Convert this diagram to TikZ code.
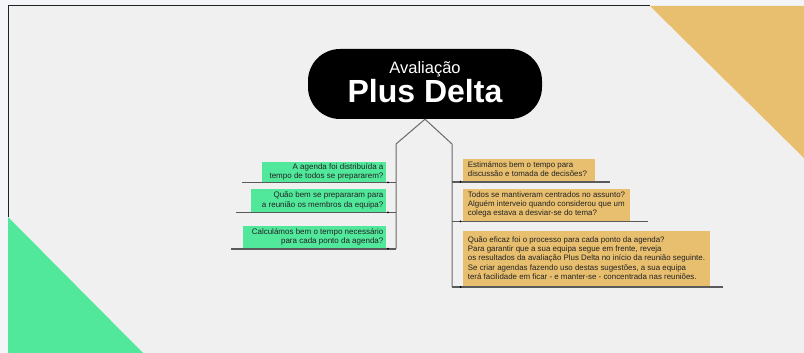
\documentclass[tikz,border=0pt]{standalone}
\usepackage{fontspec}
\setmainfont{Liberation Sans}
\definecolor{pagebg}{HTML}{F3F5F8}
\definecolor{innerbg}{HTML}{F0F0F0}
\definecolor{boxorange}{HTML}{E8BF6F}
\definecolor{boxgreen}{HTML}{52E89B}
\definecolor{framec}{HTML}{222222}
\definecolor{spinegray}{HTML}{6A6A6A}
\definecolor{ulgray}{HTML}{5A5A5A}
\definecolor{textdark}{HTML}{222222}
\newcommand{\rblock}[2]{\makebox[#1][r]{\begin{tabular}{@{}r@{}}#2\end{tabular}}}
\newcommand{\lblock}[2]{\makebox[#1][l]{\begin{tabular}{@{}l@{}}#2\end{tabular}}}
\begin{document}
\begin{tikzpicture}[x=1pt,y=-1pt,
  conn/.style={draw=spinegray, line width=1pt},
  uline/.style={draw=ulgray, line width=1.6pt},
  boxtext/.style={anchor=north west, inner ysep=0pt, text=textdark},
  gbox/.style={boxtext, fill=boxgreen, inner xsep=2.5pt, font=\fontsize{8}{9.3}\selectfont},
  obox/.style={boxtext, fill=boxorange, inner xsep=5pt, font=\fontsize{7.9}{9.3}\selectfont},
  tickmark/.style={fill=black, circle, inner sep=0pt, minimum size=2pt}
]
\useasboundingbox (0,0) rectangle (804,353);
\fill[pagebg] (0,0) rectangle (804,353);
\fill[innerbg] (8,6) rectangle (806,355);
\fill[boxorange] (650,6) -- (806,6) -- (806,160) -- cycle;
\fill[boxgreen] (8,217) -- (8,355) -- (145,355) -- cycle;
\draw[framec, line width=1pt] (8,217) -- (8,6) -- (650,6);

% central node
\node[fill=black, rounded corners=32pt, minimum width=234pt, minimum height=70pt, inner sep=0pt] (center) at (425,84) {};
\node[text=white, anchor=base, inner sep=0pt, font=\fontsize{16.5}{18}\selectfont] (title1) at (425,73.3) {Avaliação};
\node[text=white, anchor=base, inner sep=0pt, font=\fontsize{32}{34}\selectfont\bfseries] (title2) at (425,102.7) {Plus Delta};

% connectors
\coordinate (lknee) at (396,144);
\coordinate (rknee) at (452,144);
\coordinate (lend) at (396,248.7);
\coordinate (rend) at (452,287);
\draw[conn] (lend) -- (lknee) -- (center.south) -- (rknee) -- (rend);

% left boxes
\node[gbox, minimum height=20pt] (L1) at (261.7,161.7) {\rblock{119pt}{A agenda foi distribuída a\\tempo de todos se prepararem?}};
\node[gbox, minimum height=22.7pt] (L2) at (250.7,189) {\rblock{130pt}{Quão bem se prepararam para\\a reunião os membros da equipa?}};
\node[gbox, minimum height=22.6pt] (L3) at (242.7,225.7) {\rblock{138pt}{Calculámos bem o tempo necessário\\para cada ponto da agenda?}};

% right boxes
\node[obox, minimum height=22.7pt] (R1) at (462.7,158.3) {\lblock{122.3pt}{Estimámos bem o tempo para\\discussão e tomada de decisões?}};
\node[obox, minimum height=32.4pt] (R2) at (462.7,188.3) {\lblock{156.6pt}{Todos se mantiveram centrados no assunto?\\Alguém interveio quando considerou que um\\colega estava a desviar-se do tema?}};
\node[obox, minimum height=55.7pt] (R3) at (462.7,231) {\lblock{237.3pt}{Quão eficaz foi o processo para cada ponto da agenda?\\Para garantir que a sua equipa segue em frente, reveja\\os resultados da avaliação Plus Delta no início da reunião seguinte.\\Se criar agendas fazendo uso destas sugestões, a sua equipa\\terá facilidade em ficar - e manter-se - concentrada nas reuniões.}};

% underlines
\coordinate (l1s) at (241.7,182.3); \coordinate (l1e) at (396,182.3);
\coordinate (l2s) at (235.7,212.3); \coordinate (l2e) at (396,212.3);
\coordinate (l3s) at (231,248.7);   \coordinate (l3e) at (396,248.7);
\coordinate (r1s) at (452,181.7);   \coordinate (r1e) at (610,181.7);
\coordinate (r2s) at (452,221.3);   \coordinate (r2e) at (648.3,221.3);
\coordinate (r3s) at (452,287);     \coordinate (r3e) at (722.7,287);
\draw[uline] (l1s) -- (l1e);
\draw[uline] (l2s) -- (l2e);
\draw[uline] (l3s) -- (l3e);
\draw[uline] (r1s) -- (r1e);
\draw[uline] (r2s) -- (r2e);
\draw[uline] (r3s) -- (r3e);

% tick marks
\node[tickmark] (t1) at (388,182.3) {};
\node[tickmark] (t2) at (388,212.3) {};
\node[tickmark] (t3) at (388,248.7) {};
\node[tickmark] (t4) at (460.5,181.7) {};
\node[tickmark] (t5) at (460.5,221.3) {};
\node[tickmark] (t6) at (460.5,287) {};
\end{tikzpicture}
\end{document}
